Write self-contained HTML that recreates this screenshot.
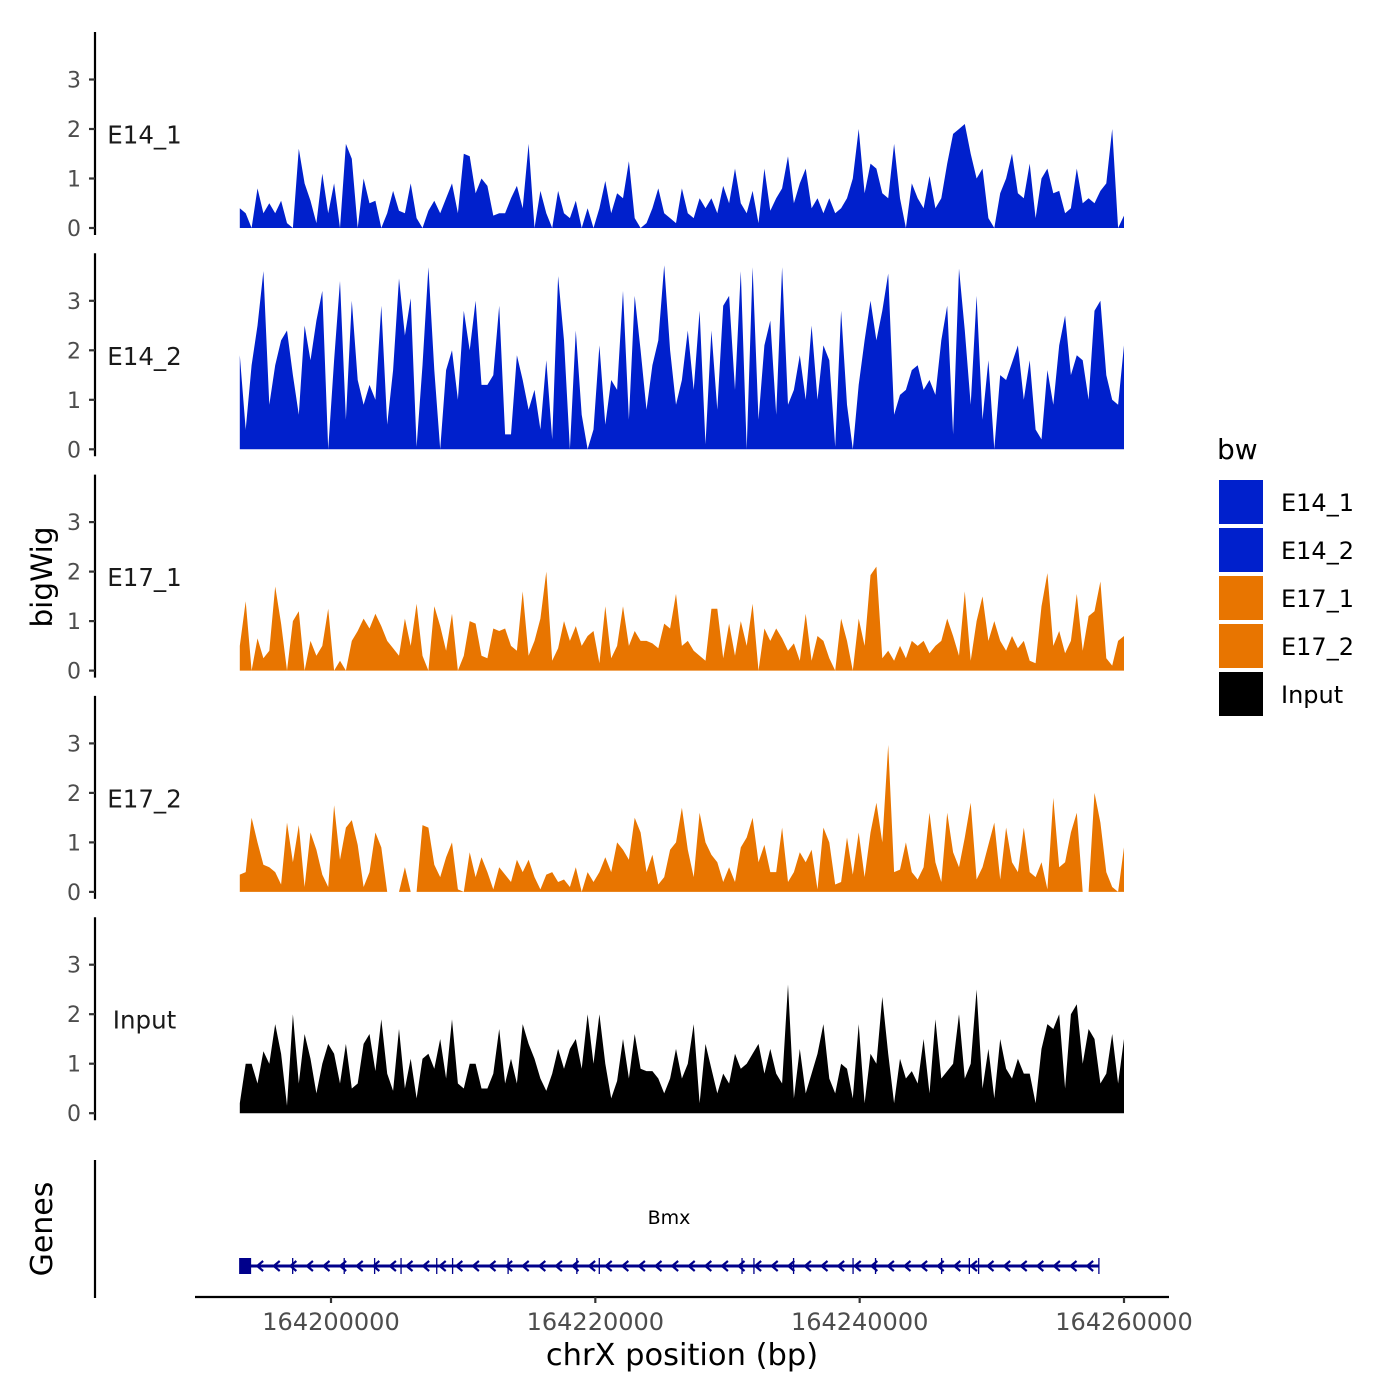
<!DOCTYPE html>
<html><head><meta charset="utf-8"><style>
html,body{margin:0;padding:0;background:#fff;}
svg{display:block;font-family:"DejaVu Sans","Liberation Sans",sans-serif;}
</style></head><body>
<svg id="chart" width="1400" height="1400" viewBox="0 0 1400 1400" xmlns="http://www.w3.org/2000/svg">
<rect width="1400" height="1400" fill="#fff"/>
<g id="tracks"></g>
<g id="genes"></g>
<g id="xaxis"></g>
<text x="0" y="0" transform="translate(52,577) rotate(-90)" text-anchor="middle" font-size="29.5" fill="#000">bigWig</text>
<text x="0" y="0" transform="translate(52,1229) rotate(-90)" text-anchor="middle" font-size="30" fill="#000">Genes</text>
<text x="682" y="1365" text-anchor="middle" font-size="30.5" fill="#000">chrX position (bp)</text>
<g id="legend">
<text x="1217" y="459" font-size="28" fill="#000">bw</text>
</g>
</svg>
<script>
const samples = ["E14_1","E14_2","E17_1","E17_2","Input"];
const sampleColors = ["#0020CC","#0020CC","#E87500","#E87500","#000000"];
const binStart = 164193100;
const binSize = 446;
const valsE14_1 = [0.4,0.3,0,0.8,0.3,0.5,0.3,0.55,0.1,0,
1.6,0.9,0.55,0.1,1.1,0.3,0.9,0,1.7,1.4,
0,1.0,0.5,0.55,0,0.3,0.75,0.35,0.3,0.9,
0.2,0,0.35,0.55,0.3,0.6,0.9,0.3,1.5,1.45,
0.7,1.0,0.85,0.25,0.3,0.3,0.6,0.85,0.4,1.7,
0,0.75,0.3,0,0.75,0.3,0.2,0.55,0,0.4,
0,0.4,0.95,0.3,0.7,0.6,1.35,0.2,0,0.1,
0.4,0.8,0.3,0.2,0.1,0.8,0.3,0.2,0.6,0.4,
0.6,0.3,0.85,0.5,1.2,0.5,0.3,0.75,0.1,1.2,
0.35,0.6,0.8,1.45,0.5,0.9,1.2,0.4,0.6,0.3,
0.6,0.3,0.4,0.6,1.0,2.0,0.7,1.3,1.2,0.7,
0.6,1.7,0.6,0,0.9,0.6,0.4,1.05,0.4,0.6,
1.3,1.9,2.0,2.1,1.5,1.0,1.2,0.2,0,0.7,
1.0,1.5,0.7,0.6,1.3,0.2,1.0,1.2,0.7,0.75,
0.3,0.4,1.2,0.5,0.6,0.5,0.75,0.9,2.0,0,0.25];
const valsE14_2 = [1.9,0.4,1.7,2.5,3.6,0.9,1.7,2.2,2.4,1.5,
0.7,2.5,1.8,2.6,3.2,0,1.8,3.4,0.6,3.0,
1.4,0.9,1.3,1.0,2.9,0.5,1.6,3.45,2.3,3.05,
0.05,1.7,3.68,1.6,0,1.6,2.0,1.0,2.8,2.0,
3.0,1.3,1.3,1.5,2.9,0.3,0.3,1.9,1.4,0.8,
1.2,0.4,1.8,0.2,3.5,2.2,0,2.4,0.7,0,
0.4,2.1,0.5,1.4,1.2,3.2,0.6,3.1,2.0,0.8,
1.7,2.2,3.72,2.0,0.9,1.4,2.4,1.2,2.8,0.1,
2.4,0.8,2.9,3.1,1.2,3.6,0,3.68,0.6,2.1,
2.6,0.7,3.68,0.9,1.2,1.9,1.0,2.5,1.0,2.1,
1.8,0.05,2.8,0.9,0,1.3,2.2,3.0,2.2,2.8,
3.55,0.7,1.1,1.2,1.6,1.7,1.2,1.4,1.1,2.2,
2.9,0.3,3.65,2.4,0.9,3.1,0.6,1.8,0,1.5,
1.4,1.75,2.1,1.0,1.8,0.4,0.2,1.6,0.9,2.1,
2.7,1.5,1.9,1.8,1.0,2.8,3.0,1.5,1.0,0.9,2.1];
const valsE17_1 = [0.5,1.4,0,0.65,0.25,0.4,1.7,0.95,0,1.0,
1.2,0,0.6,0.3,0.5,1.25,0,0.2,0,0.6,
0.8,1.05,0.85,1.15,0.9,0.6,0.45,0.3,1.05,0.5,
1.35,0.3,0,1.3,0.9,0.4,1.15,0,0.3,1.0,
0.95,0.3,0.25,0.85,0.8,0.85,0.5,0.4,1.6,0.3,
0.6,1.05,2.0,0.2,0.45,1.0,0.6,0.9,0.5,0.7,
0.8,0.15,1.3,0.25,0.5,1.3,0.5,0.8,0.6,0.6,
0.55,0.45,0.95,0.85,1.55,0.5,0.6,0.4,0.3,0.2,
1.25,1.25,0.25,0.95,0.3,1.0,0.5,1.35,0,0.85,
0.6,0.85,0.65,0.4,0.55,0.2,1.15,0.2,0.7,0.6,
0.25,0,1.05,0.6,0,1.05,0.5,1.93,2.1,0.25,
0.4,0.2,0.5,0.25,0.6,0.5,0.6,0.35,0.5,0.6,
1.05,0.7,0.3,1.6,0.2,1.0,1.5,0.6,1.0,0.6,
0.4,0.7,0.45,0.6,0.2,0.15,1.3,1.97,0.5,0.8,
0.35,0.6,1.55,0.4,1.1,1.2,1.8,0.25,0.1,0.6,0.7];
const valsE17_2 = [0.35,0.4,1.5,1.0,0.55,0.5,0.4,0.15,1.4,0.6,
1.35,0.1,1.2,0.85,0.35,0.1,1.75,0.65,1.3,1.45,
0.95,0.1,0.4,1.2,0.9,0,0,0,0.5,0,
0,1.35,1.3,0.55,0.3,0.7,1.0,0.05,0,0.8,
0.3,0.7,0.4,0.05,0.5,0.35,0.2,0.65,0.4,0.65,
0.3,0.05,0.35,0.4,0.2,0.25,0.1,0.5,0,0.4,
0.2,0.4,0.7,0.4,1.0,0.85,0.65,1.5,1.2,0.4,
0.75,0.15,0.3,0.85,1.0,1.7,0.85,0.3,1.6,1.0,
0.75,0.6,0.2,0.5,0.2,0.9,1.1,1.5,0.6,0.95,
0.4,0.4,1.3,0.2,0.4,0.8,0.6,0.85,0.05,1.3,
1.0,0.15,0.2,1.1,0.35,1.2,0.3,1.2,1.8,1.0,
2.97,0.4,0.45,1.0,0.4,0.25,0.5,1.6,0.6,0.2,
1.6,0.8,0.5,1.1,1.8,0.25,0.5,0.95,1.4,0.25,
1.3,0.6,0.4,1.3,0.4,0.3,0.6,0.05,1.9,0.5,
0.6,1.2,1.6,0,0,2.0,1.4,0.4,0.1,0,0.9];
const valsInput = [0.2,1.0,1.0,0.6,1.25,1.0,1.8,1.2,0.15,2.0,
0.6,1.6,1.1,0.4,1.0,1.4,1.2,0.6,1.4,0.5,
0.6,1.4,1.6,0.85,1.9,0.8,0.45,1.7,0.5,1.1,
0.3,1.1,1.2,0.9,1.5,0.7,1.9,0.6,0.5,1.0,
1.0,0.5,0.5,0.8,1.7,0.6,1.1,0.6,1.8,1.4,
1.1,0.7,0.45,0.8,1.3,0.9,1.3,1.5,0.9,2.0,
1.0,2.0,1.0,0.3,0.65,1.5,0.7,1.6,0.9,0.85,
0.85,0.7,0.4,0.7,1.3,0.7,1.0,1.8,0.2,1.4,
0.9,0.4,0.8,0.6,1.2,0.9,1.0,1.2,1.4,0.8,
1.3,0.8,0.6,2.6,0.3,1.3,0.4,0.8,1.2,1.8,
0.7,0.4,1.0,0.9,0.3,1.8,0.2,1.2,1.0,2.35,
1.2,0.2,1.1,0.7,0.85,0.6,1.5,0.4,1.9,0.7,
0.85,1.0,2.0,0.7,1.0,2.5,0.5,1.3,0.3,1.5,
0.9,0.7,1.1,0.8,0.8,0.2,1.3,1.8,1.7,2.0,
0.5,2.0,2.2,1.0,1.7,1.5,0.6,0.8,1.6,0.6,1.5];
const seriesVals = [valsE14_1, valsE14_2, valsE17_1, valsE17_2, valsInput];
const yTicks = [0,1,2,3];
const xTicks = [164200000,164220000,164240000,164260000];
const xTickLabels = ["164200000","164220000","164240000","164260000"];
const geneName = "Bmx";
const geneStart = 164193200;
const geneEnd = 164258100;
const exonPositions = [164197100,164201000,164203300,164205300,164208000,164209200,164213400,164218600,164220300,164231100,164232000,164235000,164239500,164241200,164246200,164248300,164249000,164258100];

const NS = "http://www.w3.org/2000/svg";
function mk(tag, attrs, parent){const e=document.createElementNS(NS,tag);for(const k in attrs)e.setAttribute(k,attrs[k]);parent.appendChild(e);return e;}
const xScale = bp => 331 + (bp - 164200000) * (793/60000);
const panelTop = k => 32 + 221.3*k;
const yScale = (k, v) => 228 + 221.3*k - v*49.5;

const tracks = document.getElementById('tracks');
samples.forEach((s, k) => {
  const g = mk('g', {}, tracks);
  
  
  const vals = seriesVals[k];
  const base = yScale(k, 0);
  let pts = [];
  const x0 = xScale(binStart);
  pts.push(x0.toFixed(1)+','+base.toFixed(1));
  vals.forEach((v, i) => { pts.push(xScale(binStart + i*binSize).toFixed(1)+','+yScale(k, v).toFixed(1)); });
  pts.push(xScale(binStart + (vals.length-1)*binSize).toFixed(1)+','+base.toFixed(1));
  const area = mk('polygon', {points: pts.join(' '), fill: sampleColors[k], stroke: 'none'}, g);
  
  
  const al = mk('line', {x1:95, x2:95, y1:panelTop(k), y2:panelTop(k)+203, stroke:'#000', 'stroke-width':2.2}, g);
  
  
  yTicks.forEach(t => {
    const y = yScale(k, t);
    const tk = mk('line', {x1:89, x2:95, y1:y, y2:y, stroke:'#333', 'stroke-width':2.2}, g);
    
    
    const tl = mk('text', {x:81, y:y+8, 'text-anchor':'end', 'font-size':22, fill:'#4d4d4d'}, g);
    tl.textContent = t;
    
    
  });
  const lab = mk('text', {x:144.5, y:yScale(k,0)-93+8.5, 'text-anchor':'middle', 'font-size':24.5, fill:'#1a1a1a'}, g);
  lab.textContent = s;
  
  
});

const gg = document.getElementById('genes');
const ga = mk('line', {x1:95, x2:95, y1:1160, y2:1298, stroke:'#000', 'stroke-width':2.2}, gg);


const gy = 1266, gc = '#00008B';
const gxs = xScale(geneStart), gxe = xScale(geneEnd);
const gl = mk('line', {x1:gxs, x2:gxe, y1:gy, y2:gy, stroke:gc, 'stroke-width':3}, gg);


const gb = mk('rect', {x:gxs-2, y:gy-8, width:12, height:16, fill:gc}, gg);


exonPositions.forEach(p => {
  const x = xScale(p);
  const e = mk('line', {x1:x, x2:x, y1:gy-8, y2:gy+8, stroke:gc, 'stroke-width':1.3}, gg);
  
  
});
for (let x = gxs + 18; x < gxe - 6; x += 16.6) {
  const c = mk('polyline', {points:(x+4)+','+(gy-5)+' '+(x-2)+','+gy+' '+(x+4)+','+(gy+5), fill:'none', stroke:gc, 'stroke-width':2.2}, gg);
  
  
}
const gt = mk('text', {x:669, y:1224, 'text-anchor':'middle', 'font-size':19, fill:'#000'}, gg);
gt.textContent = geneName;



const xa = document.getElementById('xaxis');
const xl = mk('line', {x1:195, x2:1169, y1:1297, y2:1297, stroke:'#000', 'stroke-width':2.2}, xa);


xTicks.forEach((t, i) => {
  const x = xScale(t);
  const tk = mk('line', {x1:x, x2:x, y1:1297, y2:1303, stroke:'#333', 'stroke-width':2.2}, xa);
  
  
  const tl = mk('text', {x:x, y:1330, 'text-anchor':'middle', 'font-size':24, fill:'#4d4d4d'}, xa);
  tl.textContent = xTickLabels[i];
  
  
});

const lg = document.getElementById('legend');
samples.forEach((s, k) => {
  const y = 480 + 48*k;
  const r = mk('rect', {x:1219, y:y, width:44, height:44, fill:sampleColors[k]}, lg);
  
  
  const t = mk('text', {x:1281, y:y+31, 'font-size':24, fill:'#000'}, lg);
  t.textContent = s;
  
  
});
</script>
</body></html>
